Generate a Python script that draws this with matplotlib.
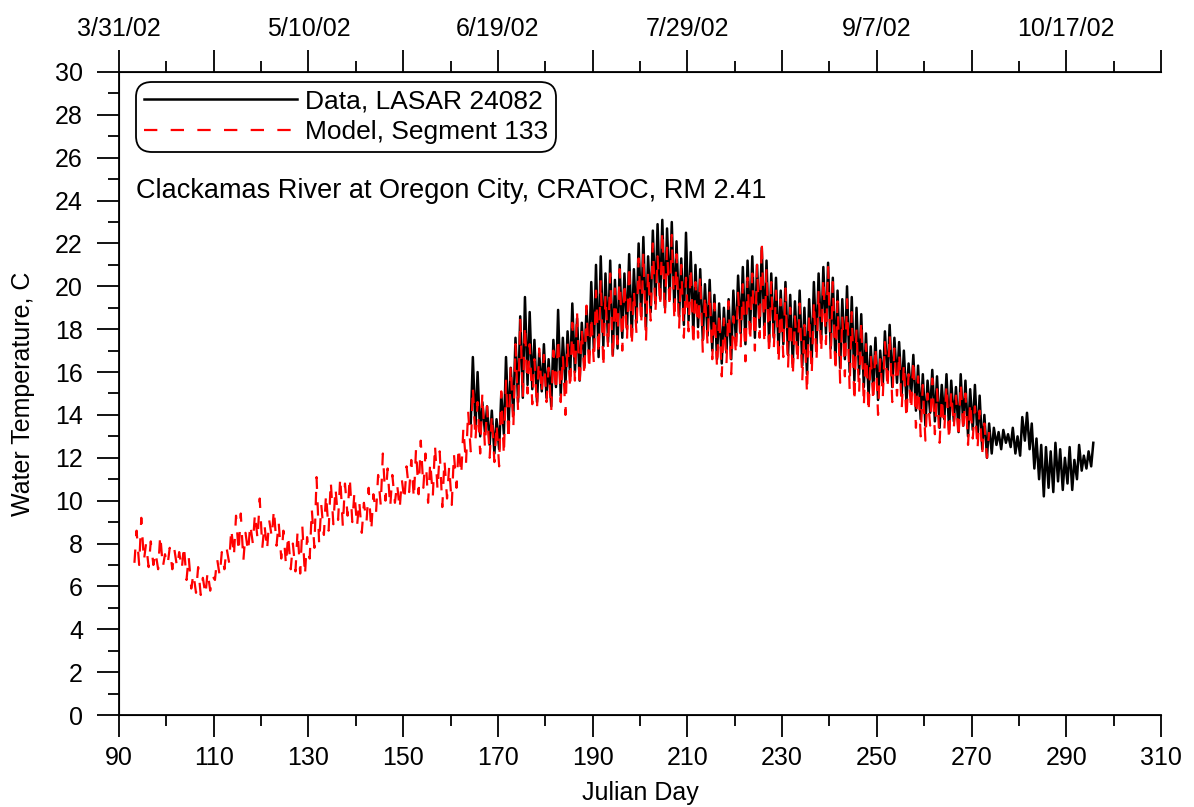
import numpy as np
import matplotlib.pyplot as plt
from matplotlib.ticker import MultipleLocator

plt.rcParams['font.family'] = ['Liberation Sans', 'DejaVu Sans']

# daily low / high water temperature (deg C)
model_start = 93
model_low = [7.1, 7.0, 7.2, 6.9, 7.0, 6.8, 6.9, 7.0, 6.8, 6.9, 6.8, 6.3, 5.9, 5.7, 5.6, 5.6, 5.8,
             6.3, 6.5, 6.8, 7.1, 7.4, 7.6, 7.2, 7.6, 8.0, 8.2, 7.8, 7.7, 8.3, 7.9, 7.3, 7.0, 6.8,
             6.7, 6.6, 6.5, 7.3, 7.8, 8.0, 8.4, 8.6, 8.9, 9.1, 8.8, 9.3, 9.0, 8.8, 8.5, 9.0, 8.6,
             9.4, 9.8, 10.0, 9.7, 9.9, 9.6, 10.0, 10.4, 10.1, 10.3, 10.6, 9.9, 10.2, 10.5, 9.7,
             10.1, 9.8, 10.6, 11.2, 11.7, 12.3, 12.8, 12.2, 12.5, 12.0, 11.8, 11.6, 12.1, 12.8,
             13.4, 14.2, 14.8, 15.0, 14.5, 14.3, 15.0, 14.6, 14.2, 15.1, 14.6, 14.0, 15.2, 15.6,
             15.3, 15.8, 16.1, 16.4, 16.8, 16.2, 17.1, 16.6, 17.3, 17.0, 17.5, 17.2, 17.8, 18.2,
             17.4, 18.4, 18.8, 19.1, 18.6, 19.0, 18.4, 18.0, 17.6, 17.9, 17.2, 17.6, 16.9, 17.3,
             16.6, 16.2, 15.8, 16.4, 15.9, 16.8, 17.2, 16.5, 17.4, 17.0, 17.6, 17.3, 16.8, 17.1,
             16.4, 16.7, 16.2, 15.8, 16.4, 15.6, 15.0, 15.9, 16.5, 16.9, 17.3, 16.6, 16.0, 15.5,
             15.8, 15.2, 14.6, 15.0, 14.4, 14.1, 14.6, 14.0, 14.8, 15.2, 14.6, 14.9, 14.3, 13.8,
             14.2, 13.4, 13.0, 12.8, 13.5, 13.1, 12.7, 13.3, 12.8, 13.4, 12.9, 13.2, 12.6, 12.9,
             12.4, 12.2, 12.0]
model_high = [8.6, 9.2, 8.0, 8.1, 7.6, 8.4, 7.5, 7.8, 7.7, 7.6, 7.9, 7.4, 6.6, 6.9, 6.4, 6.7, 6.5,
              7.3, 7.6, 7.8, 8.7, 9.3, 9.4, 8.5, 8.9, 9.4, 10.1, 8.9, 9.1, 9.6, 9.0, 8.6, 8.4, 8.0,
              8.6, 8.8, 8.3, 9.6, 11.1, 9.8, 10.3, 10.9, 10.6, 11.1, 10.8, 11.1, 10.4, 10.0, 9.9,
              10.6, 10.3, 11.2, 12.2, 11.5, 11.2, 10.8, 11.0, 11.6, 11.9, 12.4, 12.8, 12.2, 11.8,
              12.6, 12.3, 11.9, 11.6, 12.2, 12.5, 13.4, 14.2, 15.3, 14.6, 15.0, 14.4, 14.0, 13.6,
              15.1, 15.6, 16.3, 17.3, 18.5, 18.2, 17.3, 16.6, 17.1, 16.8, 16.2, 17.0, 17.6, 16.8,
              17.4, 18.3, 18.8, 18.0, 19.1, 18.6, 19.8, 20.3, 19.6, 20.6, 19.9, 20.8, 20.2, 21.0,
              19.8, 21.3, 21.6, 20.7, 22.0, 21.4, 22.6, 21.8, 22.4, 21.5, 21.0, 20.4, 20.9, 20.2,
              20.5, 19.6, 19.8, 19.2, 18.8, 18.5, 19.3, 18.6, 19.7, 20.1, 20.4, 20.6, 21.0, 22.1,
              20.8, 20.2, 19.8, 19.4, 19.9, 19.0, 18.6, 19.2, 18.2, 18.7, 19.3, 19.8, 20.4, 20.9,
              20.2, 19.3, 18.6, 19.4, 18.8, 18.0, 18.4, 17.3, 16.8, 17.2, 16.6, 17.4, 17.8, 17.1,
              16.9, 16.4, 15.9, 16.6, 15.8, 15.4, 15.0, 15.7, 15.2, 14.8, 15.4, 15.1, 14.9, 15.5,
              15.0, 14.6, 14.4, 14.2, 13.6, 13.2]

data_start = 164
data_low = [13.6, 13.4, 13.0, 13.2, 12.6, 12.2, 12.4, 13.1, 13.5, 14.0, 14.6, 14.8, 15.4, 15.2,
            14.6, 15.1, 14.8, 14.4, 15.3, 14.9, 15.4, 15.8, 16.0, 15.6, 16.3, 16.8, 17.0, 16.7,
            17.2, 17.4, 16.8, 17.1, 17.6, 18.0, 17.7, 18.3, 18.6, 18.1, 18.8, 19.2, 19.4, 19.0,
            19.5, 18.9, 18.6, 18.2, 18.4, 17.8, 18.1, 17.5, 17.7, 17.0, 16.6, 16.4, 16.9, 16.6,
            17.4, 17.8, 17.3, 18.0, 17.6, 18.1, 17.9, 17.4, 17.6, 17.0, 17.3, 16.8, 16.4, 16.9,
            16.3, 15.9, 16.6, 17.2, 17.5, 17.8, 17.1, 16.5, 16.2, 16.6, 16.0, 15.6, 15.9, 15.3,
            14.9, 15.2, 14.7, 15.4, 15.7, 15.3, 15.5, 15.0, 14.6, 14.9, 14.2, 13.8, 13.5, 14.1,
            13.7, 13.4, 13.8, 13.3, 13.7, 13.2, 13.5, 13.0, 13.3, 12.9, 12.4, 12.0, 12.2, 12.6,
            12.4, 12.7, 12.5, 12.2, 12.1, 12.8, 12.4, 11.5, 11.0, 10.2, 10.6, 10.4, 10.9, 10.5,
            10.8, 10.5, 11.0, 11.4, 11.5, 11.6]
data_high = [16.7, 16.0, 14.6, 14.4, 14.2, 13.8, 15.0, 16.7, 16.2, 17.6, 18.6, 19.5, 18.8, 17.5,
             16.9, 17.3, 16.6, 17.5, 18.9, 17.6, 17.9, 19.2, 18.5, 18.3, 19.0, 20.2, 21.0, 21.4,
             20.6, 21.2, 20.3, 21.0, 20.6, 21.5, 20.8, 22.0, 22.3, 21.4, 22.6, 22.9, 23.1, 22.7,
             23.0, 22.1, 21.3, 22.5, 21.6, 21.0, 20.8, 20.1, 20.3, 19.6, 19.2, 19.0, 19.4, 19.8,
             20.5, 20.9, 21.2, 21.4, 21.0, 21.8, 21.2, 20.6, 20.4, 19.8, 20.2, 19.6, 19.3, 19.8,
             19.0, 19.4, 20.2, 20.6, 20.9, 21.1, 20.4, 19.8, 19.4, 20.0, 19.5, 19.0, 18.7, 17.8,
             17.2, 17.6, 17.0, 17.9, 18.2, 17.6, 17.4, 17.0, 16.4, 16.8, 16.3, 15.9, 15.6, 16.1,
             15.8, 15.4, 15.9, 15.6, 15.3, 15.9, 15.6, 15.2, 15.4, 14.9, 14.0, 13.6, 13.4, 13.2,
             13.3, 13.1, 13.4, 13.0, 13.9, 14.1, 13.6, 12.9, 12.6, 12.5, 12.3, 12.7, 12.4, 12.0,
             12.5, 11.9, 12.6, 12.1, 12.3, 12.7]

x_ticks = np.arange(90, 311, 20)
top_ticks = np.arange(90, 311, 20)
top_labels = ['3/31/02', '', '5/10/02', '', '6/19/02', '', '7/29/02', '', '9/7/02', '',
              '10/17/02', '']


def daily_series(start, lows, highs):
    days = start + np.arange(len(lows))
    t = np.column_stack([days + 0.25, days + 0.7]).ravel()
    v = np.column_stack([lows, highs]).ravel()
    return t, v


t_data, v_data = daily_series(data_start, data_low, data_high)
t_model, v_model = daily_series(model_start, model_low, model_high)

fig = plt.figure(figsize=(11.94, 8.07), dpi=100)
ax = fig.add_axes([0.0997, 0.114, 0.8727, 0.7968])

ax.plot(t_data, v_data, color='black', lw=1.8, label='Data, LASAR 24082')
ax.plot(t_model, v_model, color='red', lw=1.6, dashes=(6, 6), label='Model, Segment 133')

ax.set_xlim(90, 310)
ax.set_ylim(0, 30)
ax.set_xticks(x_ticks)
ax.xaxis.set_minor_locator(MultipleLocator(10))
ax.yaxis.set_major_locator(MultipleLocator(2))
ax.yaxis.set_minor_locator(MultipleLocator(1))
ax.tick_params(which='major', length=16, width=1.3, labelsize=18, pad=6)
ax.tick_params(axis='y', which='major', pad=10)
ax.tick_params(which='minor', length=8, width=1.3)
ax.spines['right'].set_visible(False)
for s in ['left', 'bottom', 'top']:
    ax.spines[s].set_linewidth(1.3)

ax2 = ax.twiny()
ax2.set_xlim(90, 310)
ax2.set_xticks(top_ticks)
ax2.set_xticklabels(top_labels)
ax2.xaxis.set_minor_locator(MultipleLocator(10))
ax2.tick_params(which='major', length=16, width=1.3, labelsize=18, pad=6)
ax2.tick_params(which='minor', length=8, width=1.3)
ax2.spines['right'].set_visible(False)

ax.set_xlabel('Julian Day', fontsize=18, labelpad=8)
ax.set_ylabel('Water Temperature, C', fontsize=18, labelpad=14)

leg = ax.legend(loc='upper left', bbox_to_anchor=(0.016, 0.985), fontsize=19,
                handlelength=5.8, handletextpad=0.3, fancybox=True, framealpha=1,
                edgecolor='black', borderpad=0.3, labelspacing=0.25, borderaxespad=0)
leg.get_frame().set_linewidth(1.3)
leg.get_frame().set_boxstyle('round', pad=0, rounding_size=0.6)

ax.text(0.016, 0.815, 'Clackamas River at Oregon City, CRATOC, RM 2.41', transform=ax.transAxes,
        fontsize=19.5, va='center', ha='left')

fig.savefig('out.png', dpi=100)
